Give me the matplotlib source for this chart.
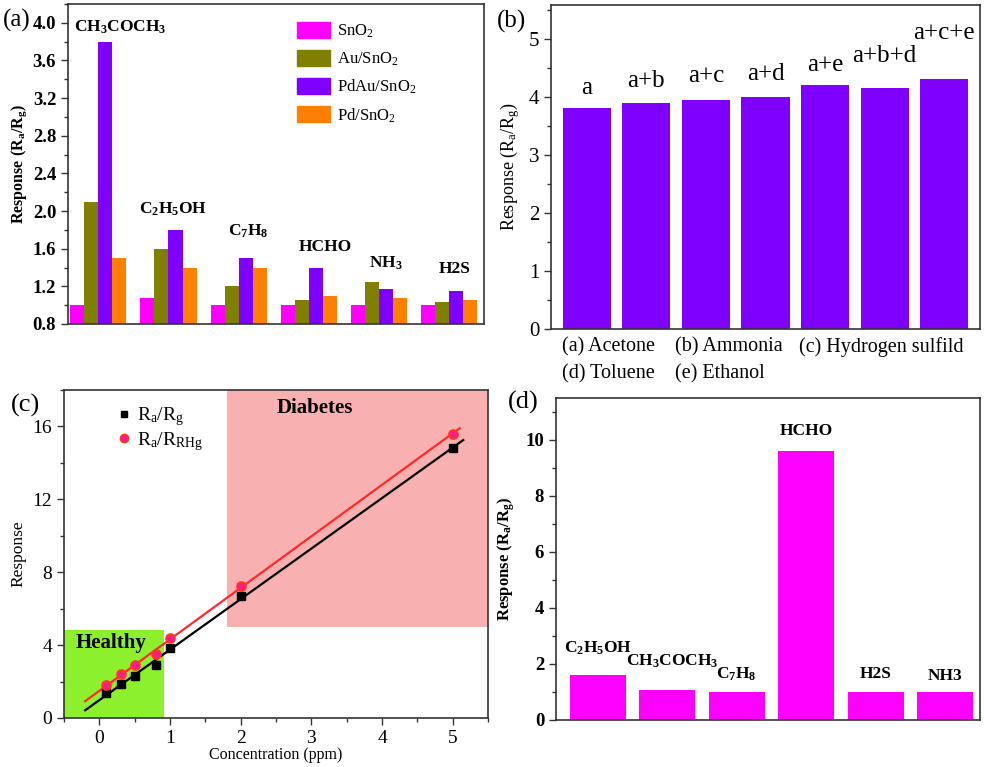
import numpy as np
import matplotlib
matplotlib.use("Agg")
import matplotlib.pyplot as plt
from matplotlib.patches import Rectangle, Patch
from matplotlib.lines import Line2D
from matplotlib.ticker import MultipleLocator, NullLocator, FormatStrFormatter

plt.rcParams['font.family'] = 'Liberation Serif'
plt.rcParams['mathtext.default'] = 'regular'

# ---------------------------------------------------------------- data
# (a) response of four sensing materials to six gases
gases_a = ['CH$_3$COCH$_3$', 'C$_2$H$_5$OH', 'C$_7$H$_8$', 'HCHO', 'NH$_3$', 'H2S']
materials = ['SnO$_2$', 'Au/SnO$_2$', 'PdAu/SnO$_2$', 'Pd/SnO$_2$']
resp_sno2 = [1.0, 1.08, 1.0, 1.0, 1.0, 1.0]
resp_au = [2.1, 1.6, 1.2, 1.05, 1.25, 1.03]
resp_pdau = [3.8, 1.8, 1.5, 1.4, 1.17, 1.15]
resp_pd = [1.5, 1.4, 1.4, 1.1, 1.08, 1.06]

# (b) response to acetone mixtures
mixtures = ['a', 'a+b', 'a+c', 'a+d', 'a+e', 'a+b+d', 'a+c+e']
mix_resp = [3.8, 3.9, 3.95, 4.0, 4.2, 4.15, 4.3]

# (c) calibration vs acetone concentration
conc_ppm = [0.1, 0.3, 0.5, 0.8, 1.0, 2.0, 5.0]
resp_rarg = [1.35, 1.85, 2.3, 2.9, 3.85, 6.7, 14.8]
resp_rarh = [1.8, 2.4, 2.9, 3.5, 4.4, 7.25, 15.6]

# (d) another sensor, six gases
gases_d = ['C$_2$H$_5$OH', 'CH$_3$COCH$_3$', 'C$_7$H$_8$', 'HCHO', 'H2S', 'NH3']
resp_d = [1.6, 1.08, 1.0, 9.6, 1.0, 1.0]

# ---------------------------------------------------------------- figure
W, H = 984, 767
fig = plt.figure(figsize=(W / 100, H / 100), dpi=100)


def px_axes(l, r, t, b):
    return fig.add_axes([l / W, 1 - b / H, (r - l) / W, (b - t) / H])


def frame(ax):
    for s in ax.spines.values():
        s.set_linewidth(1.2)
        s.set_color('#333333')
    ax.tick_params(which='both', direction='out', color='#333333', width=1.0)
    ax.tick_params(which='major', length=5)
    ax.tick_params(which='minor', length=3)


# ---- (a)
ax_a = px_axes(68, 484, 4, 324)
ax = ax_a
frame(ax)
colors_a = ['#ff00ff', '#808000', '#7f00ff', '#ff8000']
series_a = [resp_sno2, resp_au, resp_pdau, resp_pd]
xg = np.arange(len(gases_a))
bw = 0.2
for j, (vals, c) in enumerate(zip(series_a, colors_a)):
    ax.bar(xg + (j - 1.5) * bw, np.array(vals) - 0.8, bw, bottom=0.8, color=c,
           label=materials[j])
ax.set_xlim(-0.435, 5.505)
ax.set_ylim(0.8, 4.2)
ax.yaxis.set_major_locator(MultipleLocator(0.4))
ax.yaxis.set_minor_locator(MultipleLocator(0.2))
ax.yaxis.set_major_formatter(FormatStrFormatter('%.1f'))
ax.xaxis.set_major_locator(NullLocator())
ax.set_ylabel('Response (R$_a$/R$_g$)', fontsize=11.5, fontweight='bold', labelpad=3)
lab_dx_a = [0.31, 0.07, 0.14, 0.24, 0.10, 0.09]
lab_dy_a = [0.06, 0.13, 0.19, 0.13, 0.10, 0.15]
group_max = np.max(np.array(series_a), axis=0)
for i, g in enumerate(gases_a):
    ax.text(i + lab_dx_a[i], group_max[i] + lab_dy_a[i], g, ha='center', va='bottom',
            fontsize=12.5, fontweight='bold')
handles = [Patch(color=c) for c in colors_a]
ax.legend(handles, materials, loc='upper left', bbox_to_anchor=(0.55, 0.945),
          frameon=False, fontsize=12, handlelength=2.0, handleheight=1.1,
          handletextpad=0.4, labelspacing=0.6, borderpad=0, borderaxespad=0)

# ---- (b)
ax = px_axes(551, 980, 5, 329)
frame(ax)
xb = np.arange(len(mixtures))
ax.bar(xb, mix_resp, 0.81, color='#7f00ff')
ax.set_xlim(-0.6, 6.6)
ax.set_ylim(0, 5.58)
ax.yaxis.set_major_locator(MultipleLocator(1))
ax.yaxis.set_minor_locator(MultipleLocator(0.5))
ax.xaxis.set_major_locator(NullLocator())
ax.tick_params(axis='y', labelsize=15)
ax.set_ylabel('Response (R$_a$/R$_g$)', fontsize=13, labelpad=5)
lab_dy_b = [0.25, 0.27, 0.31, 0.29, 0.25, 0.45, 0.70]
for i, m in enumerate(mixtures):
    ax.text(i, mix_resp[i] + lab_dy_b[i], m, ha='center', va='baseline', fontsize=18)
legend_rows = [('(a) Acetone', '(b) Ammonia', '(c) Hydrogen sulfild'),
               ('(d) Toluene', '(e) Ethanol')]
col_x = [562, 675, 799]
row_y = [347, 374]
for r, row in enumerate(legend_rows):
    for c, txt in enumerate(row):
        fig.text(col_x[c] / W, 1 - row_y[r] / H, txt, ha='left', va='center', fontsize=14.5)

# ---- (c)
ax = px_axes(64, 488, 390, 718)
frame(ax)
ax.add_patch(Rectangle((-0.5, 0), 1.42, 4.85, color='#8cf02c', lw=0, zorder=0))
ax.add_patch(Rectangle((1.8, 5.0), 3.7, 13.0, color='#f9b0b0', lw=0, zorder=0))
k1, b1 = np.polyfit(conc_ppm, resp_rarg, 1)
k2, b2 = np.polyfit(conc_ppm, resp_rarh, 1)
xfit1 = np.array([-0.2, 5.15])
xfit2 = np.array([-0.2, 5.1])
ax.plot(xfit1, k1 * xfit1 + b1, color='black', lw=1.6, zorder=2)
ax.plot(xfit2, k2 * xfit2 + b2, color='#ff2a2a', lw=1.6, zorder=2)
ax.plot(conc_ppm, resp_rarg, 's', color='black', ms=6, zorder=3)
ax.plot(conc_ppm, resp_rarh, 'o', mfc='#ff1a8c', mec='#ff3a1a', mew=1.2, ms=6.5, zorder=3)
ax.set_xlim(-0.5, 5.5)
ax.set_ylim(0, 18)
ax.xaxis.set_major_locator(MultipleLocator(1))
ax.xaxis.set_minor_locator(MultipleLocator(0.5))
ax.yaxis.set_major_locator(MultipleLocator(4))
ax.yaxis.set_minor_locator(MultipleLocator(2))
ax.tick_params(labelsize=14)
ax.set_xlabel('Concentration (ppm)', fontsize=11.5, labelpad=0)
ax.set_ylabel('Response', fontsize=12.5, labelpad=4)
ax.text(3.05, 17.0, 'Diabetes', ha='center', va='center', fontsize=15, fontweight='bold')
ax.text(-0.33, 4.1, 'Healthy', ha='left', va='center', fontsize=15, fontweight='bold')
lh = [Line2D([], [], ls='none', marker='s', color='black', ms=5),
      Line2D([], [], ls='none', marker='o', mfc='#ff1a8c', mec='#ff3a1a', ms=6)]
ax.legend(lh, ['R$_a$/R$_g$', 'R$_a$/R$_{RHg}$'], loc='upper left',
          bbox_to_anchor=(0.095, 0.995), frameon=False, fontsize=14, handlelength=0.6,
          handletextpad=0.4, labelspacing=0.1, borderpad=0.2)

# ---- (d)
ax_d = px_axes(556, 980, 398, 720)
ax = ax_d
frame(ax)
xd = np.arange(len(gases_d))
ax.bar(xd, resp_d, 0.81, color='#ff00ff')
ax.set_xlim(-0.6, 5.5)
ax.set_ylim(0, 11.5)
ax.yaxis.set_major_locator(MultipleLocator(2))
ax.yaxis.set_minor_locator(MultipleLocator(1))
ax.xaxis.set_major_locator(NullLocator())
ax.set_ylabel('Response (R$_a$/R$_g$)', fontsize=12, fontweight='bold', labelpad=6)
lab_dy_d = [0.65, 0.7, 0.32, 0.44, 0.36, 0.29]
lab_dx_d = [0, 0.07, 0, 0, 0, 0]
for i, g in enumerate(gases_d):
    ax.text(i + lab_dx_d[i], resp_d[i] + lab_dy_d[i], g, ha='center', va='bottom',
            fontsize=12.5, fontweight='bold')

# ---- panel letters
for letter, (x, y, fs) in {'(a)': (3, 20, 18), '(b)': (497, 21, 18),
                           '(c)': (11, 405, 19), '(d)': (508, 402, 19)}.items():
    fig.text(x / W, 1 - y / H, letter, ha='left', va='center', fontsize=fs)

# bold, larger tick labels on (a) and (d) -- set after the ticks exist
fig.canvas.draw()
for a in (ax_a, ax_d):
    for lab in a.get_yticklabels():
        lab.set_fontsize(13.5)
        lab.set_fontweight('bold')

fig.savefig('out.png', dpi=100)
